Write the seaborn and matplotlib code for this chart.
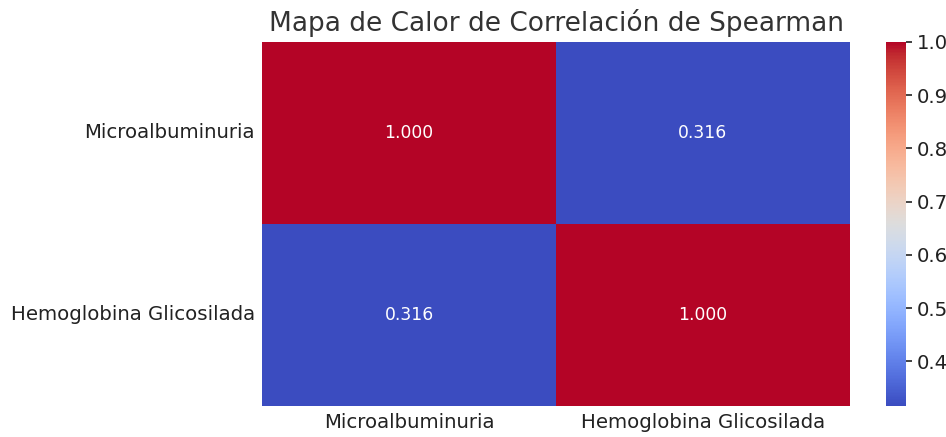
import numpy as np
import pandas as pd
import seaborn as sns
import matplotlib.pyplot as plt

variables = ['Microalbuminuria', 'Hemoglobina Glicosilada']
corr_values = [[1.000, 0.316],
               [0.316, 1.000]]

corr = pd.DataFrame(corr_values, index=variables, columns=variables)

sns.set_style('white')
plt.rcParams['font.family'] = ['DejaVu Sans']

f = plt.figure(figsize=(9.46, 4.37), dpi=100)
ax = f.add_axes([0.277, 0.071, 0.6215, 0.833])
cax = f.add_axes([0.9366, 0.071, 0.0211, 0.833])

sns.heatmap(corr, annot=True, fmt='.3f', cmap='coolwarm', ax=ax, cbar_ax=cax,
            annot_kws={'fontsize': 12.3})
ax.set_title('Mapa de Calor de Correlación de Spearman', fontsize=19, color='#333333', pad=8)
ax.tick_params(axis='both', labelsize=14.2, length=0, colors='#222222', pad=5)
ax.set_yticklabels(ax.get_yticklabels(), rotation=0)
cax.tick_params(labelsize=14.2, colors='#222222', length=4, width=1.2)
cax.set_yticks([0.4, 0.5, 0.6, 0.7, 0.8, 0.9, 1.0])
for s in cax.spines.values():
    s.set_visible(False)

f.savefig('out.png', dpi=100)
